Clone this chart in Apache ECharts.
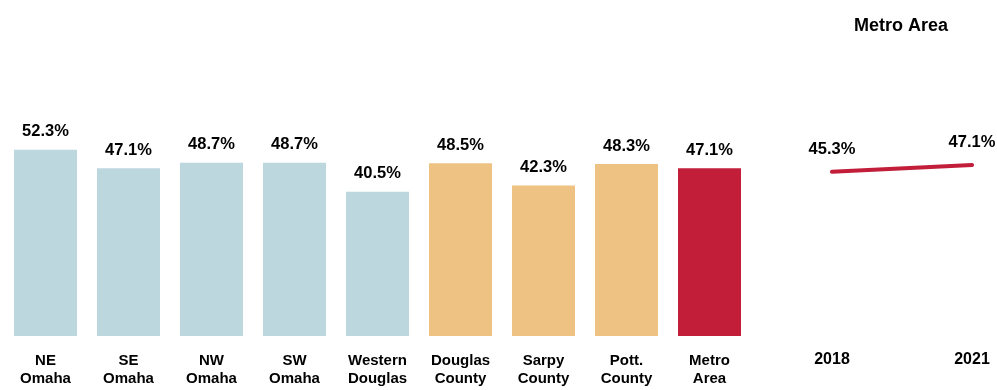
<!DOCTYPE html>
<html>
<head>
<meta charset="utf-8">
<script src="https://cdn.jsdelivr.net/npm/echarts@6/dist/echarts.min.js"></script>
<style>
html,body{margin:0;padding:0;background:#fff;}
#chart{width:997px;height:390px;}
</style>
</head>
<body>
<div id="chart"></div>
<script>
// Data
const barCategories = ['NE\nOmaha','SE\nOmaha','NW\nOmaha','SW\nOmaha','Western\nDouglas','Douglas\nCounty','Sarpy\nCounty','Pott.\nCounty','Metro\nArea'];
const barValues = [52.3, 47.1, 48.7, 48.7, 40.5, 48.5, 42.3, 48.3, 47.1];
const barGroups = ['omaha','omaha','omaha','omaha','omaha','county','county','county','metro'];
const lineCategories = ['2018','2021'];
const lineValues = [45.3, 47.1];
const titleText = 'Metro Area';

const FONT = '"Liberation Sans Narrow","Arial Narrow","Liberation Sans",Arial,sans-serif';
const groupColors = {omaha:'#BDD7DE', county:'#EDC283', metro:'#C21E3A'};
const RED = '#C21E3A';

const chart = echarts.init(document.getElementById('chart'), null, {renderer:'canvas'});
chart.setOption({
  backgroundColor:'#ffffff',
  animation:false,
  title:{
    text:titleText,
    left:849, top:12,
    textStyle:{fontFamily:FONT, fontWeight:'bold', fontSize:18, color:'#000'}
  },
  grid:[
    {left:4, width:747, top:122.4, bottom:54, containLabel:false},
    {left:832, right:25, top:117, bottom:50, containLabel:false}
  ],
  xAxis:[
    {gridIndex:0, type:'category', data:barCategories,
     axisLine:{show:false}, axisTick:{show:false},
     axisLabel:{interval:0, margin:16, fontFamily:FONT, fontWeight:'bold', fontSize:15, lineHeight:18, color:'#000'}},
    {gridIndex:1, type:'category', data:lineCategories, boundaryGap:false,
     axisLine:{show:false}, axisTick:{show:false},
     axisLabel:{interval:0, margin:12, fontFamily:FONT, fontWeight:'bold', fontSize:16, color:'#000'}}
  ],
  yAxis:[
    {gridIndex:0, type:'value', min:0, max:60, show:false, splitLine:{show:false}},
    {gridIndex:1, type:'value', min:0, max:60, show:false, splitLine:{show:false}}
  ],
  series:[
    {type:'bar', xAxisIndex:0, yAxisIndex:0, barWidth:63,
     data:barValues.map((v,i)=>({value:v, itemStyle:{color:groupColors[barGroups[i]]}})),
     label:{show:true, position:'top', distance:9.5, formatter:p=>p.value.toFixed(1)+'%',
            fontFamily:FONT, fontWeight:'bold', fontSize:16.5, color:'#000'}},
    {type:'line', xAxisIndex:1, yAxisIndex:1, data:lineValues,
     symbol:'circle', symbolSize:3, showSymbol:true,
     itemStyle:{color:RED},
     lineStyle:{color:RED, width:4, cap:'round'},
     label:{show:true, position:'top', distance:12, formatter:p=>p.value.toFixed(1)+'%',
            fontFamily:FONT, fontWeight:'bold', fontSize:16.5, color:'#000'}}
  ]
});
</script>
</body>
</html>
